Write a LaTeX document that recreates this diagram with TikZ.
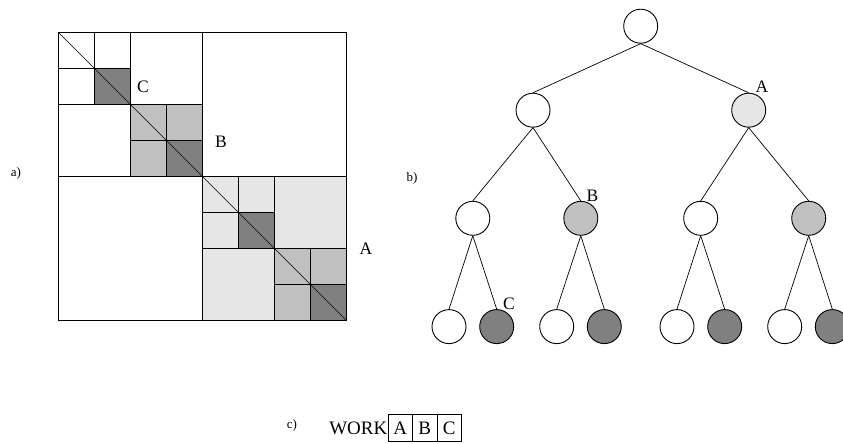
\documentclass[tikz,border=0pt]{standalone}
\usepackage{fontspec}
\setmainfont{Liberation Serif}
\definecolor{lightfill}{HTML}{E6E6E6}
\definecolor{midfill}{HTML}{C0C0C0}
\definecolor{darkfill}{HTML}{808080}
\begin{document}
\begin{tikzpicture}[x=1pt,y=-1pt,
  tnode/.style={circle,draw,line width=0.9pt,minimum size=34pt,inner sep=0pt},
  tedge/.style={line width=0.7pt},
  lbl/.style={font=\fontsize{17.5}{20}\selectfont,inner sep=0pt},
  part/.style={font=\fontsize{13}{15}\selectfont,inner sep=0pt},
  cell/.style={draw,line width=0.7pt,minimum width=24.5pt,minimum height=27pt,
               inner sep=0pt,font=\fontsize{19}{21}\selectfont},
  gridline/.style={line width=0.8pt},
  outerline/.style={line width=0.6pt}]
\clip (0,0) rectangle (843,444);

% ---------- a) hierarchical block matrix (grid units of 1/8 of the side) ----------
\begin{scope}[shift={(58.3pt,-32.3pt)},x=36.05pt,y=-36.05pt]
  % shaded blocks
  \fill[lightfill] (4,4) rectangle (8,8);
  \fill[midfill] (2,2) rectangle (4,4);
  \fill[midfill] (6,6) rectangle (8,8);
  \foreach \k in {1,3,5,7} \fill[darkfill] (\k,\k) rectangle (\k+1,\k+1);
  % outer frame
  \draw[outerline] (0,0) rectangle (8,8);
  % halves
  \draw[gridline] (4,0) -- (4,8) (0,4) -- (8,4);
  % quarters of the upper-left half
  \draw[gridline] (2,0) -- (2,4) (0,2) -- (4,2);
  \draw[gridline] (1,0) -- (1,2) (0,1) -- (2,1);
  \draw[gridline] (3,2) -- (3,4) (2,3) -- (4,3);
  % quarters of the lower-right half
  \draw[gridline] (6,4) -- (6,8) (4,6) -- (8,6);
  \draw[gridline] (5,4) -- (5,6) (4,5) -- (6,5);
  \draw[gridline] (7,6) -- (7,8) (6,7) -- (8,7);
  % dark diagonal blocks outlined
  \foreach \k in {1,3,5,7} \draw[gridline] (\k,\k) rectangle (\k+1,\k+1);
  % diagonal
  \draw[line width=0.6pt] (0,0) -- (8,8);
\end{scope}
\node[lbl] (mC) at (143,87) {C};
\node[lbl] (mB) at (221,142) {B};
\node[lbl] (mA) at (366,249) {A};
\node[part] (pa) at (16,173) {a)};

% ---------- b) binary tree ----------
\node[tnode] (r) at (640.7,26.2) {};
\node[tnode] (n1) at (533,110.2) {};
\node[tnode,fill=lightfill] (n2) at (748.7,110.2) {};
\node[tnode] (n11) at (472.8,218.3) {};
\node[tnode,fill=midfill] (n12) at (580.8,218.3) {};
\node[tnode] (n21) at (700.7,218.3) {};
\node[tnode,fill=midfill] (n22) at (808.7,218.3) {};
\node[tnode] (n111) at (449,326.6) {};
\node[tnode,fill=darkfill] (n112) at (496.7,326.6) {};
\node[tnode] (n121) at (556.7,326.6) {};
\node[tnode,fill=darkfill] (n122) at (604.3,326.6) {};
\node[tnode] (n211) at (677,326.6) {};
\node[tnode,fill=darkfill] (n212) at (724.7,326.6) {};
\node[tnode] (n221) at (784.7,326.6) {};
\node[tnode,fill=darkfill] (n222) at (832.3,326.6) {};
\foreach \p/\c in {r/n1,r/n2,n1/n11,n1/n12,n2/n21,n2/n22,
                   n11/n111,n11/n112,n12/n121,n12/n122,
                   n21/n211,n21/n212,n22/n221,n22/n222}
  \draw[tedge] (\p.south) -- (\c.north);
\node[lbl] (tA) at (762,86.5) {A};
\node[lbl] (tB) at (592.5,195.5) {B};
\node[lbl] (tC) at (509,304) {C};
\node[part] (pb) at (412,178) {b)};

% ---------- c) work array ----------
\node[part] (pc) at (292,425) {c)};
\node[cell] (wa) at (400.25,428) {A};
\node[cell] (wb) at (424.75,428) {B};
\node[cell] (wc) at (449.25,428) {C};
\node[inner sep=0pt,anchor=east,font=\fontsize{19}{21}\selectfont] (work) at (387.5,428) {WORK};
\end{tikzpicture}
\end{document}
